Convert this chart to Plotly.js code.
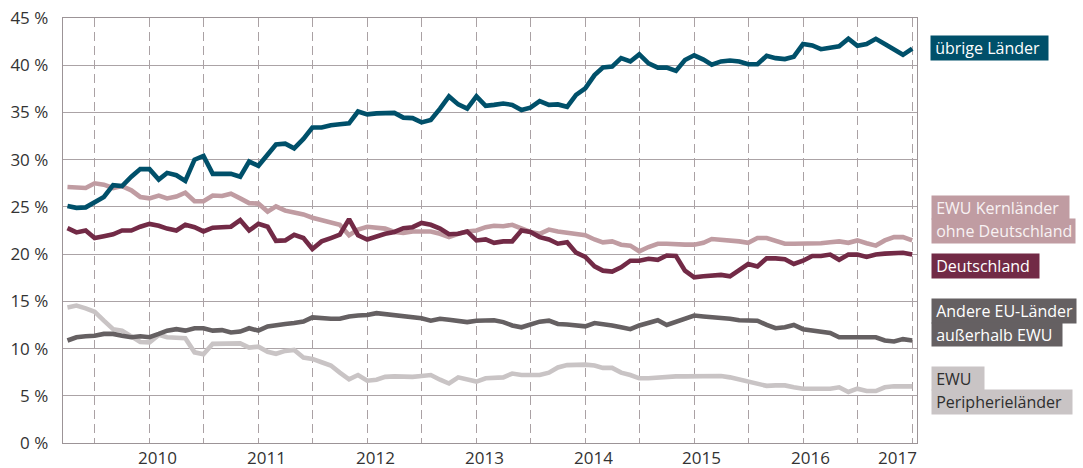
<!DOCTYPE html>
<html>
<head>
<meta charset="utf-8">
<script src="https://cdn.plot.ly/plotly-3.0.1.min.js"></script>
<style>html,body{margin:0;padding:0;background:#fff;}#chart{width:1083px;height:468px;}</style>
</head>
<body>
<div id="chart"></div>
<script>
// monthly observations, April 2009 – January 2017
const startYear = 2009, startMonth = 4, nMonths = 94;
const months = [];
for (let k = 0; k < nMonths; k++) {
  const m = startMonth - 1 + k;
  const y = startYear + Math.floor(m / 12);
  const mm = (m % 12) + 1;
  months.push(y + '-' + String(mm).padStart(2, '0') + '-01');
}

const uebrigeLaender = [25.1,24.9,24.95,25.5,26.05,27.3,27.2,28.2,29.0,29.0,27.9,28.6,28.35,27.75,30.0,30.4,28.5,28.5,28.5,28.2,29.8,29.35,30.55,31.6,
  31.7,31.2,32.2,33.4,33.4,33.65,33.75,33.85,35.1,34.8,34.9,34.9,34.95,34.45,34.4,33.95,34.2,35.4,36.7,35.85,35.4,36.7,35.7,35.8,
  35.95,35.8,35.25,35.5,36.2,35.8,35.85,35.6,36.85,37.55,38.95,39.75,39.85,40.75,40.4,41.15,40.2,39.75,39.75,39.4,40.55,41.05,40.6,40.05,
  40.4,40.5,40.4,40.1,40.1,41.0,40.75,40.65,40.9,42.25,42.1,41.7,41.9,42.0,42.8,42.05,42.25,42.8,42.25,41.65,41.1,41.75];

const ewuKern = [27.1,27.1,27.0,27.5,27.35,27.0,27.2,26.75,26.05,25.9,26.2,25.9,26.1,26.5,25.6,25.6,26.2,26.15,26.4,25.9,25.4,25.35,24.5,25.05,
  24.6,24.4,24.2,23.85,23.6,23.3,23.1,22.0,22.6,22.9,22.8,22.7,22.35,22.25,22.4,22.4,22.4,22.15,21.8,22.15,22.4,22.5,22.85,23.0,
  22.95,23.1,22.7,22.35,22.15,22.6,22.4,22.25,22.15,22.0,21.55,21.25,21.35,21.0,20.9,20.3,20.75,21.1,21.1,21.0,21.0,21.0,21.2,21.6,
  21.55,21.45,21.35,21.2,21.7,21.7,21.45,21.1,21.1,21.1,21.2,21.15,21.25,21.35,21.2,21.45,21.15,20.9,21.45,21.8,21.8,21.45];

const deutschland = [22.75,22.3,22.5,21.7,21.9,22.1,22.5,22.5,22.9,23.2,23.0,22.7,22.5,23.1,22.85,22.4,22.8,22.85,22.9,23.6,22.5,23.2,22.9,21.4,
  21.45,22.05,21.7,20.55,21.35,21.7,22.05,23.7,22.0,21.55,21.9,22.15,22.35,22.75,22.85,23.3,23.1,22.7,22.1,22.15,22.4,21.45,21.55,21.2,
  21.35,21.35,22.5,22.35,21.8,21.55,21.1,21.25,20.15,19.7,18.7,18.25,18.15,18.6,19.3,19.3,19.5,19.4,19.85,19.8,18.25,17.55,17.65,17.75,
  17.8,17.65,18.25,18.95,18.7,19.55,19.55,19.45,18.95,19.3,19.8,19.8,19.95,19.4,19.95,19.95,19.7,19.95,20.05,20.1,20.15,19.95];

const andereEU = [10.85,11.2,11.3,11.35,11.55,11.55,11.35,11.2,11.3,11.2,11.55,11.9,12.05,11.9,12.15,12.15,11.9,11.95,11.7,11.8,12.15,11.9,12.35,12.5,
  12.6,12.7,12.85,13.3,13.2,13.15,13.15,13.4,13.5,13.55,13.75,13.65,13.6,13.4,13.3,13.2,12.95,13.15,13.05,12.95,12.8,12.95,13.0,13.0,
  12.8,12.45,12.25,12.6,12.85,12.95,12.6,12.55,12.5,12.35,12.7,12.6,12.45,12.25,12.05,12.45,12.7,13.0,12.5,12.85,13.2,13.5,13.4,13.35,
  13.3,13.15,13.0,12.95,12.95,12.5,12.15,12.25,12.5,12.05,11.9,11.8,11.65,11.2,11.2,11.1,11.2,11.2,10.85,10.75,11.0,10.85];

const ewuPeripherie = [14.35,14.55,14.25,13.9,12.95,12.05,11.9,11.3,10.7,10.65,11.45,11.2,11.1,11.1,9.6,9.4,10.5,10.5,10.5,10.55,10.1,10.2,9.65,9.45,
  9.75,9.85,9.05,8.9,8.55,8.2,7.45,6.75,7.2,6.6,6.7,7.0,7.05,7.0,7.0,7.1,7.2,6.7,6.3,6.95,6.75,6.5,6.85,6.9,
  6.95,7.35,7.2,7.2,7.2,7.45,8.0,8.25,8.3,8.3,8.2,7.95,7.95,7.45,7.2,6.85,6.85,6.95,7.0,7.05,7.05,7.05,7.1,7.15,
  7.1,6.95,6.75,6.5,6.25,6.05,6.1,6.1,5.9,5.75,5.75,5.75,5.75,5.9,5.4,5.75,5.5,5.5,5.9,6.0,6.0,6.0];

const yearLabels = ['2010','2011','2012','2013','2014','2015','2016','2017'];
const yearLabelPos = ['2010-01-27','2011-01-27','2012-01-27','2013-01-27','2014-01-27','2015-01-27','2016-01-27','2016-11-13'];
const yTickVals = [0,5,10,15,20,25,30,35,40,45];
const yTickText = ['0 %','5 %','10 %','15 %','20 %','25 %','30 %','35 %','40 %','45 %'];

const C = {
  teal: '#00506a', pink: '#c09ca2', maroon: '#722a46', dgray: '#656062', lgray: '#c9c4c5'
};

const series = [
  {name: 'EWU Peripherieländer', y: ewuPeripherie, color: C.lgray},
  {name: 'Andere EU-Länder außerhalb EWU', y: andereEU, color: C.dgray},
  {name: 'EWU Kernländer ohne Deutschland', y: ewuKern, color: C.pink},
  {name: 'Deutschland', y: deutschland, color: C.maroon},
  {name: 'übrige Länder', y: uebrigeLaender, color: C.teal}
];

const traces = series.map(s => ({
  type: 'scatter', mode: 'lines', x: months, y: s.y, name: s.name,
  line: {color: s.color, width: 4.6}, hoverinfo: 'skip'
}));

const W = 1083, H = 468, M = {l: 63, r: 166, t: 18, b: 25};
const px = v => (v - M.l) / (W - M.l - M.r);
const py = v => 1 - (v - M.t) / (H - M.t - M.b);

// label boxes: [text, left, top, width, height, bg, fg]
const labelBoxes = [
  ['übrige Länder', 930, 35, 117, 24, C.teal, '#ffffff'],
  ['EWU Kernländer', 931, 195, 137, 23, C.pink, '#f8f2f3'],
  ['ohne Deutschland', 931, 218, 143, 24, C.pink, '#f8f2f3'],
  ['Deutschland', 931, 253, 107, 24, C.maroon, '#ffffff'],
  ['Andere EU-Länder', 931, 298, 144, 24, C.dgray, '#ffffff'],
  ['außerhalb EWU', 931, 322, 130, 23, C.dgray, '#ffffff'],
  ['EWU', 931, 366, 52, 23, C.lgray, '#2e2e2e'],
  ['Peripherieländer', 931, 389, 140, 24, C.lgray, '#2e2e2e']
];

const annotations = labelBoxes.map(b => ({
  xref: 'paper', yref: 'paper', x: px(b[1]), y: py(b[2]), xanchor: 'left', yanchor: 'top',
  text: '\u00a0' + b[0], showarrow: false, align: 'left', valign: 'middle',
  width: b[3], height: b[4], borderpad: 0, bgcolor: b[5],
  font: {family: 'Open Sans, sans-serif', size: 16, color: b[6]}
}));

// year labels below the axis
yearLabels.forEach((t, k) => {
  annotations.push({
    xref: 'x', yref: 'paper', x: yearLabelPos[k], y: py(456.5), xanchor: 'center', yanchor: 'middle',
    text: t, showarrow: false, height: 16, borderpad: 0,
    font: {family: 'Open Sans, sans-serif', size: 17, color: '#333333'}
  });
});

const gridC = '#aba3a6', axisC = '#9c9497';

const layout = {
  width: W, height: H, margin: M,
  paper_bgcolor: '#ffffff', plot_bgcolor: '#ffffff',
  showlegend: false,
  font: {family: 'Open Sans, sans-serif', size: 17, color: '#333333'},
  xaxis: {
    type: 'date', range: ['2009-03-17', '2017-01-17'],
    tickmode: 'array', tickvals: yearLabelPos, ticktext: yearLabels,
    showticklabels: false,
    showgrid: false, ticks: '', zeroline: false,
    showline: true, linecolor: axisC, linewidth: 1.3, mirror: true,
    minor: {tick0: '2009-01-01', dtick: 'M6', showgrid: true, gridcolor: '#aaa1a4', gridwidth: 1, griddash: '9px,5px', ticks: ''}
  },
  yaxis: {
    range: [0, 45], tickmode: 'array', tickvals: yTickVals, ticktext: yTickText,
    showgrid: true, gridcolor: gridC, gridwidth: 1,
    zeroline: false, ticks: '', showline: true, linecolor: axisC, linewidth: 1.3, mirror: true,
    ticklabelstandoff: 10, tickfont: {size: 17, color: '#333333'}
  },
  annotations: annotations
};

Plotly.newPlot('chart', traces, layout, {displayModeBar: false, staticPlot: true});
</script>
</body>
</html>
